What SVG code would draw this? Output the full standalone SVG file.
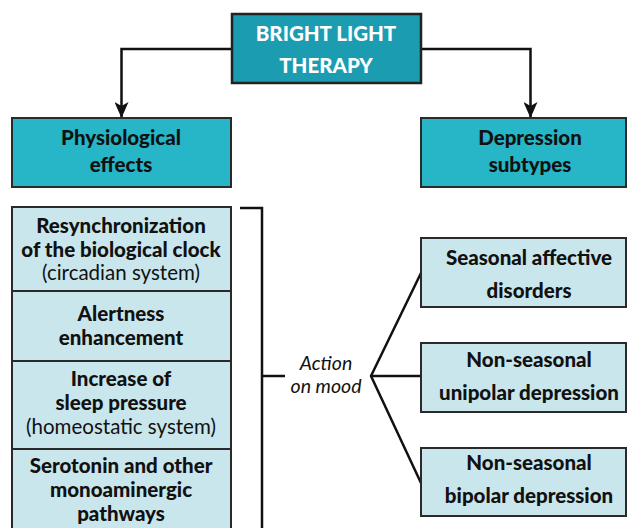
<svg xmlns="http://www.w3.org/2000/svg" width="628" height="528" viewBox="0 0 628 528">
<defs>
<marker id="arr" markerWidth="16" markerHeight="14" refX="16" refY="7" orient="auto" markerUnits="userSpaceOnUse" viewBox="0 0 16 14">
<path d="M0,0 L16,7 L0,14 L4,7 Z" fill="#111"/>
</marker>
<style>
.top{fill:#1b9cb0;stroke:#222;stroke-width:2.5}
.mid{fill:#26b6c7;stroke:#2a2a2a;stroke-width:2}
.lt{fill:#c9e6ec;stroke:#2a2a2a;stroke-width:2}
.b{font-family:Lato,"Noto Sans",sans-serif;font-weight:900;font-size:20.5px;fill:#111;text-anchor:middle}
.r{font-family:Lato,"Noto Sans",sans-serif;font-weight:normal;font-size:20.5px;fill:#111;text-anchor:middle}
.w{fill:#fff}
.i{font-family:Lato,"Noto Sans",sans-serif;font-style:italic;font-size:19.5px;fill:#111;text-anchor:middle}
.c{fill:none;stroke:#111;stroke-width:2.5}
</style>
</defs>
<rect width="628" height="528" fill="#fff"/>
<g id="connectors">
<path class="c" d="M231,49 H121.5 V118" marker-end="url(#arr)"/>
<path class="c" d="M421,49 H530.5 V118" marker-end="url(#arr)"/>
<path class="c" d="M240,208 H262 V540"/>
<path class="c" d="M262,376 H285"/>
<path class="c" d="M421,273 L371,376 L421,483"/>
<path class="c" d="M371,376 H421"/>
</g>
<g id="bright-light-therapy">
<rect class="top" x="232" y="14" width="189" height="69"/>
<text class="b w" x="326" y="41">BRIGHT LIGHT</text>
<text class="b w" x="326" y="73">THERAPY</text>
</g>
<g id="physiological-effects">
<rect class="mid" x="12" y="118" width="219" height="69"/>
<text class="b" x="121" y="145">Physiological</text>
<text class="b" x="121" y="172">effects</text>
</g>
<g id="depression-subtypes">
<rect class="mid" x="421" y="118" width="205" height="69"/>
<text class="b" x="530" y="145">Depression</text>
<text class="b" x="530" y="172">subtypes</text>
</g>
<g id="resynchronization">
<rect class="lt" x="12" y="207" width="219" height="84"/>
<text class="b" x="121" y="233">Resynchronization</text>
<text class="b" x="121" y="257">of the biological clock</text>
<text class="r" x="121" y="280">(circadian system)</text>
</g>
<g id="alertness">
<rect class="lt" x="12" y="291" width="219" height="70"/>
<text class="b" x="121" y="321">Alertness</text>
<text class="b" x="121" y="345">enhancement</text>
</g>
<g id="sleep-pressure">
<rect class="lt" x="12" y="361" width="219" height="88"/>
<text class="b" x="121" y="386">Increase of</text>
<text class="b" x="121" y="410">sleep pressure</text>
<text class="r" x="121" y="434">(homeostatic system)</text>
</g>
<g id="serotonin">
<rect class="lt" x="12" y="449" width="219" height="92"/>
<text class="b" x="121" y="473">Serotonin and other</text>
<text class="b" x="121" y="497">monoaminergic</text>
<text class="b" x="121" y="521">pathways</text>
</g>
<g id="action-on-mood">
<text class="i" x="326" y="370">Action</text>
<text class="i" x="326" y="393">on mood</text>
</g>
<g id="seasonal">
<rect class="lt" x="421" y="238" width="205" height="69"/>
<text class="b" x="529" y="265">Seasonal affective</text>
<text class="b" x="529" y="298">disorders</text>
</g>
<g id="unipolar">
<rect class="lt" x="421" y="343" width="205" height="69"/>
<text class="b" x="529" y="367">Non-seasonal</text>
<text class="b" x="529" y="400">unipolar depression</text>
</g>
<g id="bipolar">
<rect class="lt" x="421" y="448" width="205" height="68"/>
<text class="b" x="529" y="470">Non-seasonal</text>
<text class="b" x="529" y="503">bipolar depression</text>
</g>
</svg>
